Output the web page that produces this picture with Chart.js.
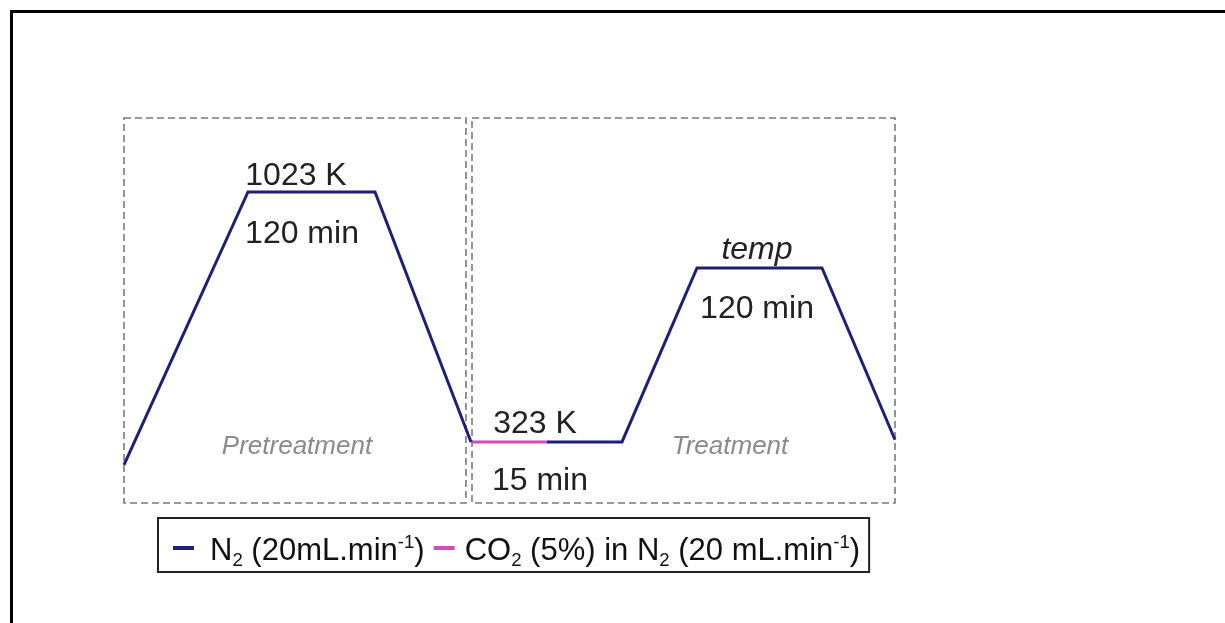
<!DOCTYPE html>
<html>
<head>
<meta charset="utf-8">
<script src="https://cdn.jsdelivr.net/npm/chart.js"></script>
<style>
  html, body { margin: 0; padding: 0; background: #fff; }
  #grafico { display: block; }
</style>
</head>
<body>
<canvas id="grafico" width="1225" height="623"></canvas>
<script>
// tempo esquematico (unidades arbitrarias) e temperatura em K
const tempoN2 = [0, 124, 251, 347, 385, 423, 498, 573, 698, 771]
const tempN2 = [259, 1023, 1023, 323, null, 323, 323, 810, 810, 329]
const tempoCO2 = [347, 423]
const tempCO2 = [323, 323]

// caixas tracejadas das etapas
const etapas = [
  { nome: 'Pretreatment', inicio: 0, fim: 342, xNome: 173 },
  { nome: 'Treatment', inicio: 348, fim: 771, xNome: 606 }
]

// rotulos dos patamares
const rotulos = [
  { texto: '1023 K', x: 172, y: 1023, dy: -7, italico: false },
  { texto: '120 min', x: 178, y: 1023, dy: 51, italico: false },
  { texto: '323 K', x: 411, y: 323, dy: -9, italico: false },
  { texto: '15 min', x: 416, y: 323, dy: 48, italico: false },
  { texto: 'temp', x: 633, y: 810, dy: -9, italico: true },
  { texto: '120 min', x: 633, y: 810, dy: 50, italico: false }
]

const corN2 = '#1f1f7a'
const corCO2 = '#d44bbd'
const fonte = '"Liberation Sans", Arial, sans-serif'

function pontos(xs, ys) {
    return xs.map((x, i) => ({ x: x, y: ys[i] }))
}

function desenhaTexto(ctx, partes, x, y, tamanho) {
    partes.forEach(p => {
        let txt = p[0]
        let tipo = p[1]
        let t = tipo ? tamanho * 0.6 : tamanho
        ctx.font = t + 'px ' + fonte
        let dy = 0
        if (tipo === 'sub') dy = tamanho * 0.18
        if (tipo === 'sup') dy = -tamanho * 0.38
        ctx.fillText(txt, x, y + dy)
        x += ctx.measureText(txt).width
    })
    return x
}

const molduraEtapas = {
    id: 'molduraEtapas',
    beforeDatasetsDraw(chart) {
        const ctx = chart.ctx
        const area = chart.chartArea
        const x = chart.scales.x
        ctx.save()
        // moldura preta da figura
        ctx.fillStyle = '#000'
        ctx.fillRect(10, 10, 3, chart.height)
        ctx.fillRect(10, 10, chart.width, 3)
        // caixas tracejadas
        ctx.strokeStyle = '#7a7a7a'
        ctx.lineWidth = 1.6
        ctx.setLineDash([7, 4])
        etapas.forEach(e => {
            let x1 = x.getPixelForValue(e.inicio)
            let x2 = x.getPixelForValue(e.fim)
            ctx.strokeRect(x1, area.top, x2 - x1, area.bottom - area.top)
        })
        ctx.setLineDash([])
        // nomes das etapas
        ctx.fillStyle = '#8a8a8a'
        ctx.textAlign = 'center'
        ctx.textBaseline = 'alphabetic'
        ctx.font = 'italic 26px ' + fonte
        etapas.forEach(e => {
            ctx.fillText(e.nome, x.getPixelForValue(e.xNome), chart.scales.y.getPixelForValue(323) + 12)
        })
        ctx.restore()
    },
    afterDatasetsDraw(chart) {
        const ctx = chart.ctx
        const xs = chart.scales.x
        const ys = chart.scales.y
        ctx.save()
        ctx.fillStyle = '#222'
        ctx.textAlign = 'center'
        ctx.textBaseline = 'alphabetic'
        rotulos.forEach(r => {
            ctx.font = (r.italico ? 'italic ' : '') + '32px ' + fonte
            ctx.fillText(r.texto, xs.getPixelForValue(r.x), ys.getPixelForValue(r.y) + r.dy)
        })
        ctx.restore()

        // legenda com caixa
        const area = chart.chartArea
        const esq = 158
        const topo = area.bottom + 15
        const alt = 54
        const base = topo + 42
        const meio = topo + 30
        ctx.save()
        ctx.fillStyle = '#111'
        ctx.textAlign = 'left'
        ctx.textBaseline = 'alphabetic'
        let cursor = esq + 15
        chart.data.datasets.forEach((ds, i) => {
            if (i > 0) cursor += 9
            ctx.strokeStyle = ds.borderColor
            ctx.lineWidth = 4
            ctx.beginPath()
            ctx.moveTo(cursor, meio)
            ctx.lineTo(cursor + 21, meio)
            ctx.stroke()
            cursor += 21 + (i === 0 ? 16 : 10)
            cursor = desenhaTexto(ctx, ds.partes, cursor, base, 31)
        })
        ctx.strokeStyle = '#222'
        ctx.lineWidth = 2
        ctx.strokeRect(esq, topo, cursor + 9 - esq, alt)
        ctx.restore()
    }
}

const grafico = document.getElementById('grafico')

new Chart(grafico, {
    type: 'line',
    data: {
        datasets: [{
            label: 'N2 (20mL.min-1)',
            partes: [['N'], ['2', 'sub'], [' (20mL.min'], ['-1', 'sup'], [')']],
            data: pontos(tempoN2, tempN2),
            borderColor: corN2,
            borderWidth: 3,
            pointRadius: 0,
            tension: 0,
            spanGaps: false,
            clip: false
        }, {
            label: 'CO2 (5%) in N2 (20 mL.min-1)',
            partes: [['CO'], ['2', 'sub'], [' (5%) in N'], ['2', 'sub'], [' (20 mL.min'], ['-1', 'sup'], [')']],
            data: pontos(tempoCO2, tempCO2),
            borderColor: corCO2,
            borderWidth: 3,
            pointRadius: 0,
            tension: 0,
            clip: false
        }]
    },
    options: {
        responsive: false,
        animation: false,
        devicePixelRatio: 1,
        layout: { padding: { left: 124, top: 118, right: 330, bottom: 120 } },
        scales: {
            x: { type: 'linear', min: 0, max: 771, display: false },
            y: { type: 'linear', min: 152, max: 1230, display: false }
        },
        plugins: {
            legend: { display: false },
            tooltip: { enabled: false }
        }
    },
    plugins: [molduraEtapas]
})
</script>
</body>
</html>
